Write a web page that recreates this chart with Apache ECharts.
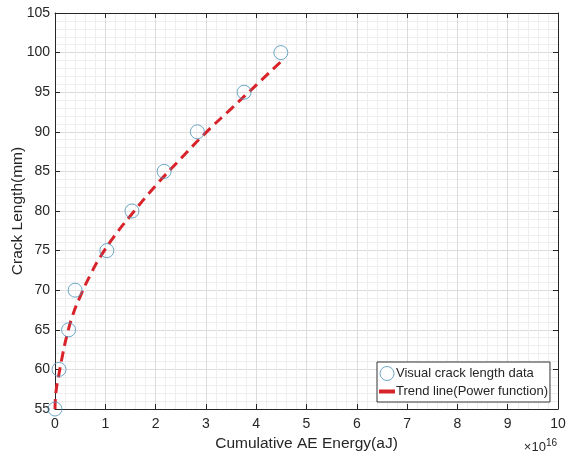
<!DOCTYPE html>
<html>
<head>
<meta charset="utf-8">
<script src="https://cdn.jsdelivr.net/npm/echarts@6/dist/echarts.min.js"></script>
<style>
  html, body { margin: 0; padding: 0; background: #fff; }
  #chart { width: 567px; height: 456px; }
</style>
</head>
<body>
<div id="chart"></div>
<script>
// x values are in units of 1e16 aJ
const energy = [0, 0.08, 0.27, 0.4, 1.03, 1.53, 2.17, 2.83, 3.76, 4.49];
const crackLength = [55, 60, 65, 70, 75, 80, 85, 90, 95, 100];

// trend line
const trendX = [0, 0.02, 0.07, 0.15, 0.23, 0.35, 0.5, 0.7, 0.9, 1.2, 1.5, 2.0, 2.5, 3.0, 3.5, 4.0, 4.5];
const trendY = [55, 57.2, 59.1, 61.8, 64.1, 66.8, 69.2, 71.9, 74.2, 77.0, 79.4, 83.2, 86.6, 89.9, 92.9, 95.9, 98.9];

const xTicks = [0, 1, 2, 3, 4, 5, 6, 7, 8, 9, 10];
const yTicks = [55, 60, 65, 70, 75, 80, 85, 90, 95, 100, 105];

const textColor = "#262626";
const fontFamily = "Liberation Sans, Arial, sans-serif";

const chart = echarts.init(document.getElementById("chart"));

const gridLine = { lineStyle: { color: "#dcdcdc", width: 1 } };
const minorLine = { show: true, lineStyle: { color: "#eeeeee", width: 1 } };

chart.setOption({
  backgroundColor: "#fff",
  animation: false,
  grid: { left: 55, right: 9, top: 13, bottom: 47, containLabel: false, outerBoundsMode: "none" },
  legend: {
    orient: "vertical",
    left: 377,
    top: 362,
    padding: [4, 2, 4, 2],
    itemGap: 4,
    itemWidth: 16,
    itemHeight: 14,
    borderColor: "#333",
    borderWidth: 1,
    backgroundColor: "#fff",
    textStyle: { color: textColor, fontSize: 13, fontFamily: fontFamily, padding: [0, 0, 0, -4] },
    data: [
      { name: "Visual crack length data", icon: "circle",
        itemStyle: { color: "transparent", borderColor: "#4a92b9", borderWidth: 1 } },
      { name: "Trend line(Power function)", icon: "path://M0,0h12v3h-12z",
        itemStyle: { color: "#d8232a" } }
    ]
  },
  xAxis: [
    {
      type: "value", min: 0, max: 10, interval: 1,
      name: "Cumulative AE Energy(aJ)", nameLocation: "middle", nameGap: 27,
      nameTextStyle: { color: textColor, fontSize: 15.5, fontFamily: fontFamily },
      axisLine: { show: true, lineStyle: { color: "#262626", width: 1 } },
      axisTick: { show: true, inside: true, length: 5, lineStyle: { color: "#262626" } },
      axisLabel: { color: textColor, fontSize: 14, fontFamily: fontFamily, margin: 8,
        formatter: (v) => xTicks.includes(v) ? String(v) : "" },
      splitLine: { show: true, ...gridLine },
      minorTick: { show: false, splitNumber: 5 },
      minorSplitLine: minorLine
    },
    {
      type: "value", min: 0, max: 10, interval: 1, position: "top",
      axisLine: { show: true, onZero: false, lineStyle: { color: "#262626", width: 1 } },
      axisTick: { show: true, inside: true, length: 5, lineStyle: { color: "#262626" } },
      axisLabel: { show: false },
      splitLine: { show: false }
    }
  ],
  yAxis: [
    {
      type: "value", min: 55, max: 105, interval: 5,
      name: "Crack Length(mm)", nameLocation: "middle", nameGap: 29, nameMoveOverlap: false,
      nameTextStyle: { color: textColor, fontSize: 15.5, fontFamily: fontFamily },
      axisLine: { show: true, lineStyle: { color: "#262626", width: 1 } },
      axisTick: { show: true, inside: true, length: 5, lineStyle: { color: "#262626" } },
      axisLabel: { color: textColor, fontSize: 14, fontFamily: fontFamily, margin: 5,
        formatter: (v) => yTicks.includes(v) ? String(v) : "" },
      splitLine: { show: true, ...gridLine },
      minorTick: { show: false, splitNumber: 5 },
      minorSplitLine: minorLine
    },
    {
      type: "value", min: 55, max: 105, interval: 5, position: "right",
      axisLine: { show: true, onZero: false, lineStyle: { color: "#262626", width: 1 } },
      axisTick: { show: true, inside: true, length: 5, lineStyle: { color: "#262626" } },
      axisLabel: { show: false },
      splitLine: { show: false }
    }
  ],
  graphic: [
    {
      type: "text", right: 10, top: 438,
      style: {
        text: "{a|×10}{b|16}",
        rich: {
          a: { fontSize: 13, fill: textColor, fontFamily: fontFamily },
          b: { fontSize: 10, fill: textColor, fontFamily: fontFamily, verticalAlign: "top", padding: [0, 0, 8, 0] }
        }
      }
    }
  ],
  series: [
    {
      name: "Trend line(Power function)",
      type: "line",
      data: trendX.map((x, i) => [x, trendY[i]]),
      smooth: true,
      showSymbol: false,
      z: 3,
      lineStyle: { color: "#d8232a", width: 3, type: [10, 6] },
      itemStyle: { color: "#d8232a" }
    },
    {
      name: "Visual crack length data",
      type: "scatter",
      data: energy.map((x, i) => [x, crackLength[i]]),
      symbol: "circle",
      symbolSize: 14,
      z: 4,
      itemStyle: { color: "transparent", borderColor: "#4a92b9", borderWidth: 1 }
    }
  ]
});
</script>
</body>
</html>
